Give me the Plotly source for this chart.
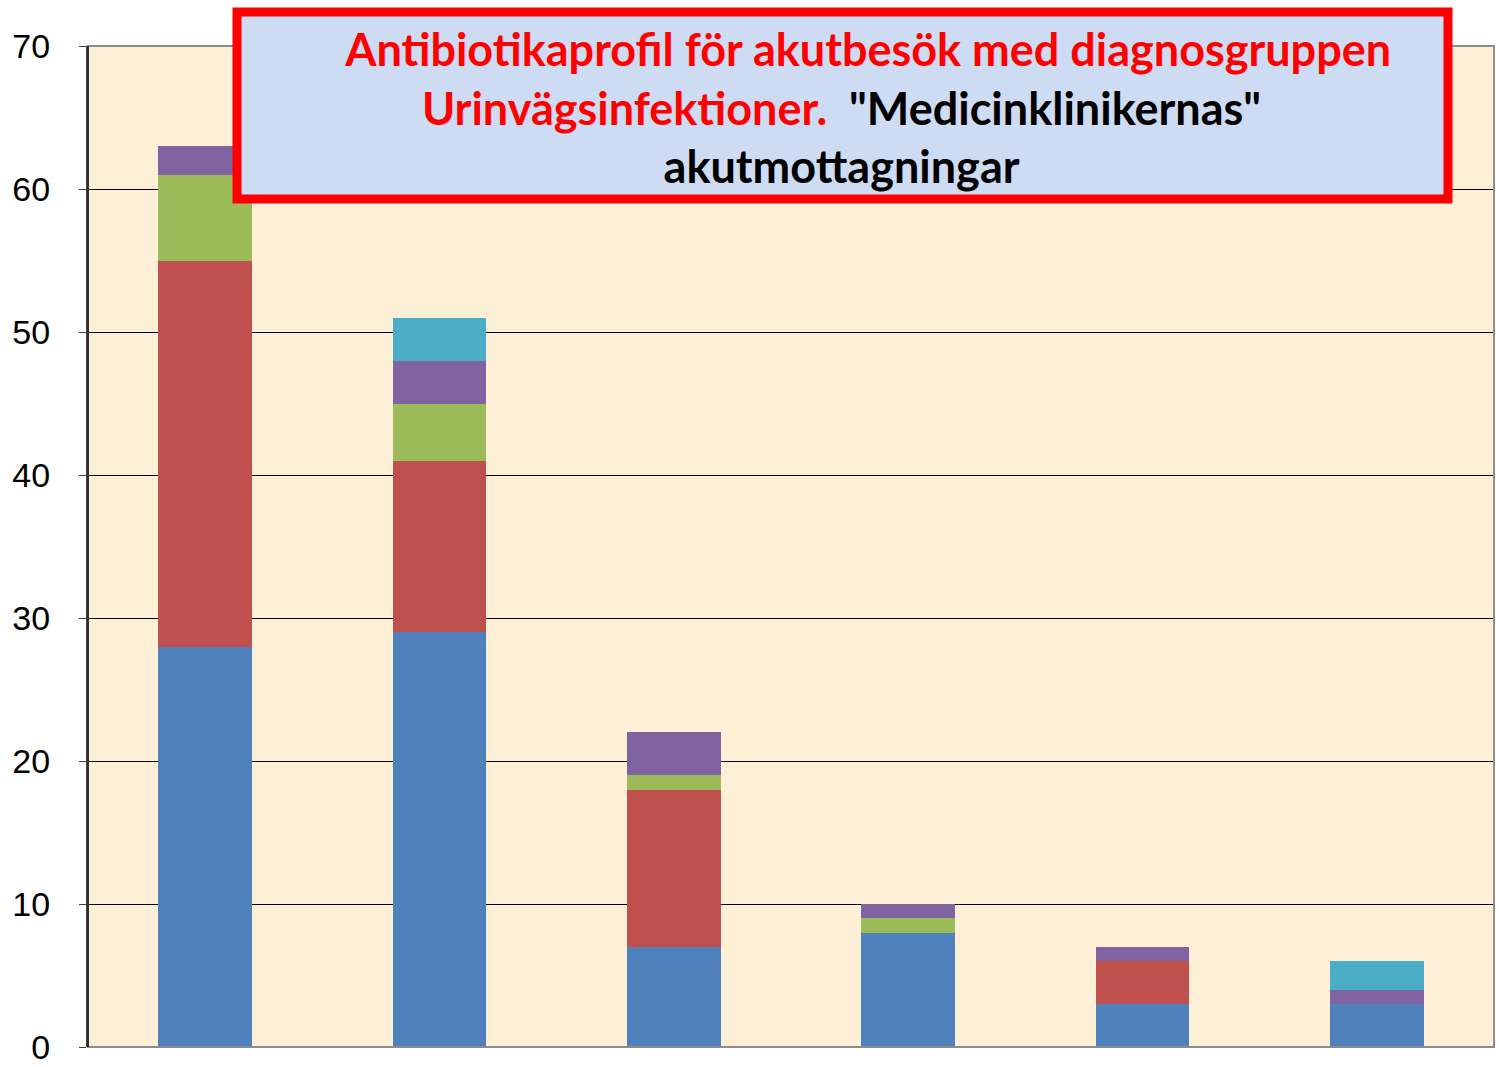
import plotly.graph_objects as go

categories = ["1", "2", "3", "4", "5", "6"]
series_names = ["Serie 1", "Serie 2", "Serie 3", "Serie 4", "Serie 5"]
blue = [28, 29, 7, 8, 3, 3]
red = [27, 12, 11, 0, 3, 0]
green = [6, 4, 1, 1, 0, 0]
purple = [2, 3, 3, 1, 1, 1]
cyan = [0, 3, 0, 0, 0, 2]
colors = ["#4F81BD", "#C0504D", "#9BBB59", "#8064A2", "#4BACC6"]
y_ticks = [0, 10, 20, 30, 40, 50, 60, 70]

fig = go.Figure()
for name, vals, col in zip(series_names, [blue, red, green, purple, cyan], colors):
    fig.add_trace(go.Bar(x=categories, y=vals, name=name, marker=dict(color=col, line=dict(width=0))))

W, H = 1499, 1067
L, R, T, B = 88, 5, 46, 20
pw, ph = W - L - R, H - T - B

def px(x):
    return (x - L) / pw

def py(y):
    return (H - B - y) / ph

fig.update_layout(
    width=W, height=H,
    margin=dict(l=L, r=R, t=T, b=B, autoexpand=False),
    barmode="stack", bargap=0.6,
    showlegend=False,
    paper_bgcolor="white",
    plot_bgcolor="#FDF0D6",
    xaxis=dict(showticklabels=False, ticks="", showgrid=False, showline=False, zeroline=False),
    yaxis=dict(range=[0, 70], tickvals=y_ticks, showgrid=True, gridcolor="#000000", gridwidth=1,
               zeroline=False, showline=True, linecolor="#404040", linewidth=2,
               ticks="outside", ticklen=7, tickcolor="#404040", ticklabelstandoff=22,
               tickfont=dict(family="Arial", size=34, color="black")),
)

# plot-area frame (top, right, bottom)
fig.add_shape(type="rect", xref="paper", yref="paper", x0=0, x1=1, y0=0, y1=1,
              line=dict(color="#8c8c8c", width=2), layer="above")
fig.add_shape(type="line", xref="paper", yref="paper", x0=0, x1=0, y0=0, y1=1,
              line=dict(color="#303030", width=2), layer="above")

# title box
fig.add_shape(type="rect", xref="paper", yref="paper",
              x0=px(237), x1=px(1448), y0=py(199), y1=py(12),
              fillcolor="#CDDBF3", line=dict(color="#FF0000", width=9), layer="above")

title_html = ("<span style='color:#FF0000'>&nbsp;&nbsp;&nbsp;&nbsp;&nbsp;Antibiotikaprofil för akutbesök med diagnosgruppen</span><br>"
              "<span style='color:#FF0000'>Urinvägsinfektioner.</span>&nbsp; \"Medicinklinikernas\"<br>"
              "akutmottagningar")
fig.add_annotation(xref="paper", yref="paper", x=px(842), y=py(107), xanchor="center", yanchor="middle",
                   text="<b>" + title_html + "</b>", showarrow=False, align="center",
                   font=dict(family="Lato", size=45, color="black"))

fig.write_html("out.html", config={"displayModeBar": False},
               post_script="document.body.style.margin='0px';")
